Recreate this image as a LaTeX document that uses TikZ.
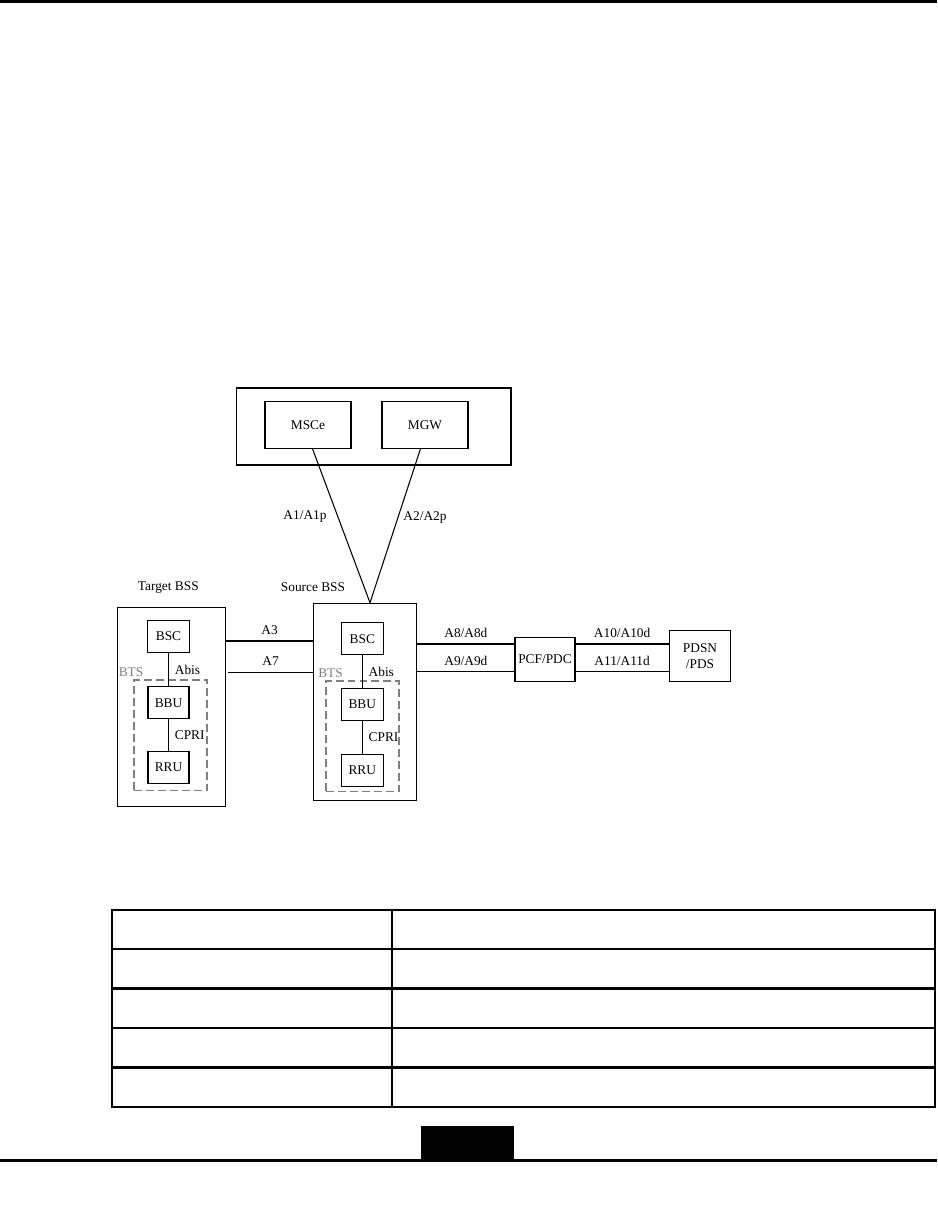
\documentclass[tikz,border=0pt]{standalone}
\usepackage{fontspec}
\setmainfont{Liberation Serif}
\usepackage{xcolor}
\usepackage{tikz}

\begin{document}
\begin{tikzpicture}[x=0.02cm, y=-0.02cm, line width=0.6pt,
  every node/.style={font=\fontsize{7.6}{9}\selectfont},
  box/.style={draw, inner sep=0pt, align=center},
  nebox/.style={box, minimum width=0.85cm, minimum height=0.64cm},
  btsarea/.style={draw=gray, line width=1pt, dash pattern=on 4.5pt off 2.3pt, inner sep=0pt},
  btslabel/.style={text=gray}]
\useasboundingbox (0,0) rectangle (937,1210);
\fill (0,0) rectangle (937,3);

\node[box, minimum width=5.5cm, minimum height=1.54cm] (core) at (373.5,426.5) {};
\node[box, minimum width=1.72cm, minimum height=0.93cm] (msce) at (308,425) {MSCe};
\node[box, minimum width=1.72cm, minimum height=0.93cm] (mgw) at (425,425) {MGW};

\node (tbss) at (168.3,587.3) {Target BSS};
\node (sbss) at (313,587) {Source BSS};
\node[box, minimum width=2.17cm, minimum height=3.97cm] (tgt) at (171.7,706.9) {};
\node[box, minimum width=2.07cm, minimum height=3.95cm] (src) at (365,702) {};

\node[btsarea, minimum width=1.46cm, minimum height=2.21cm] (tbts) at (170.8,735.3) {};
\node[btslabel] (tbtsl) at (131,671.7) {BTS};
\node[nebox] (tbsc) at (168.5,636.3) {BSC};
\node[nebox, minimum width=0.82cm] (tbbu) at (168.5,702.8) {BBU};
\node[nebox, minimum width=0.82cm] (trru) at (168.5,767.5) {RRU};
\draw (tbsc) -- node[right] {Abis} (tbbu);
\draw (tbbu) -- node[right] {CPRI} (trru);

\node[btsarea, minimum width=1.46cm, minimum height=2.21cm] (sbts) at (362.5,736.3) {};
\node[btslabel] (sbtsl) at (330.5,673.3) {BTS};
\node[nebox] (sbsc) at (362.3,638.8) {BSC};
\node[nebox] (sbbu) at (362.3,704.2) {BBU};
\node[nebox] (srru) at (362.3,770.5) {RRU};
\draw (sbsc) -- node[right] {Abis} (sbbu);
\draw (sbbu) -- node[right] {CPRI} (srru);

\draw ([xshift=0.09cm]msce.south) -- ([xshift=0.1cm]src.north);
\draw ([xshift=-0.09cm]mgw.south) -- ([xshift=0.1cm]src.north);
\node (a1) at (305,517) {A1/A1p};
\node (a2) at (425,517) {A2/A2p};

\node[box, minimum width=1.2cm, minimum height=0.89cm] (pcf) at (545,659.5) {PCF/PDC};
\node[box, minimum width=1.23cm, minimum height=1.02cm] (pdsn) at (700,656.2) {PDSN\\/PDS};

\coordinate (ya3) at (0,641);
\coordinate (ya7) at (0,672.3);
\coordinate (ya8) at (0,644);
\coordinate (ya9) at (0,671.7);
\draw (tgt.east |- ya3) -- node[above] {A3} (src.west |- ya3);
\draw ([xshift=0.04cm]tgt.east |- ya7) -- node[above] {A7} (src.west |- ya7);
\draw (src.east |- ya8) -- node[above] {A8/A8d} (pcf.west |- ya8);
\draw (src.east |- ya9) -- node[above] {A9/A9d} (pcf.west |- ya9);
\draw (pcf.east |- ya8) -- node[above] {A10/A10d} (pdsn.west |- ya8);
\draw (pcf.east |- ya9) -- node[above] {A11/A11d} (pdsn.west |- ya9);

\draw[line width=1.2pt] (112,910) rectangle (935,1107);
\draw[line width=1.2pt] (392,910) -- (392,1107);
\foreach \y in {949,988.5,1028,1067.5}
  \draw[line width=1.2pt] (112,\y) -- (935,\y);

\fill (421,1126) rectangle (514,1160);
\fill (0,1159) rectangle (937,1162);
\end{tikzpicture}
\end{document}
